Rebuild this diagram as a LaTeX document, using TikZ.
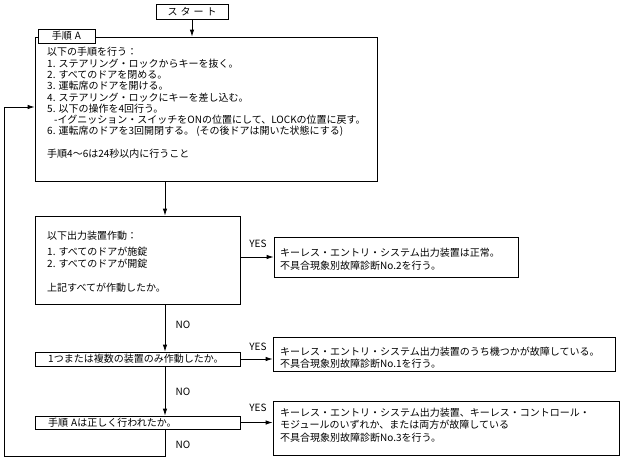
\documentclass[tikz,border=0pt]{standalone}
\usepackage{fontspec}
\setmainfont{Noto Sans CJK JP}
\usetikzlibrary{arrows.meta}
\newcommand\dgfs{\fontsize{10}{11.2}\selectfont}
\begin{document}
\begin{tikzpicture}[x=1pt,y=-1pt,
  box/.style={draw, line width=0.8pt, inner sep=0pt, rectangle},
  txt/.style={inner sep=0pt, anchor=north west, align=left, font=\dgfs},
  lab/.style={inner sep=0pt, font=\dgfs},
  arr/.style={line width=0.8pt, -{Latex[length=7pt,width=4.5pt]}},
  ln/.style={line width=0.8pt}]
\useasboundingbox (0,0) rectangle (621,458);
% boxes
\node[box, minimum width=72pt, minimum height=15pt, font=\dgfs] (start) at (192,12) {ス\hspace{3pt}タ\hspace{3pt}ー\hspace{3pt}ト};
\node[box, minimum width=342pt, minimum height=144pt] (A) at (206,109) {};
\node[box, fill=white, minimum width=57pt, minimum height=14pt, font=\dgfs] (tab) at (66.5,36) {手順\hspace{3pt}A};
\node[txt] (Atext) at (47,46.8) {以下の手順を行う：\\[0.8pt]
1. ステアリング・ロックからキーを抜く。\\
2. すべてのドアを閉める。\\
3. 運転席のドアを開ける。\\
4. ステアリング・ロックにキーを差し込む。\\
5. 以下の操作を4回行う。\\
\hspace*{7pt}-イグニッション・スイッチをONの位置にして、LOCKの位置に戻す。\\
6. 運転席のドアを3回開閉する。 (その後ドアは開いた状態にする)\\[11.8pt]
手順4〜6は24秒以内に行うこと};
\node[box, minimum width=205pt, minimum height=88pt] (B) at (137.5,260) {};
\node[txt] (Btext) at (47,231.2) {以下出力装置作動：\\[4.8pt]
1. すべてのドアが施錠\\
2. すべてのドアが開錠\\[12.8pt]
上記すべてが作動したか。};
\node[box, minimum width=244pt, minimum height=40pt] (R1) at (396,257) {};
\node[txt] (R1text) at (280,247.8) {キーレス・エントリ・システム出力装置は正常。\\[1.8pt]
不具合現象別故障診断No.2を行う。};
\node[box, minimum width=205pt, minimum height=14pt] (C) at (137.5,359) {};
\node[lab, anchor=west] (Ctext) at (48,359) {1つまたは複数の装置のみ作動したか。};
\node[box, minimum width=342pt, minimum height=34pt] (R2) at (444,354) {};
\node[txt] (R2text) at (280,346.8) {キーレス・エントリ・システム出力装置のうち機つかが故障している。\\[0.8pt]
不具合現象別故障診断No.1を行う。};
\node[box, minimum width=205pt, minimum height=13pt] (D) at (137.5,422.5) {};
\node[lab, anchor=west] (Dtext) at (48,422.5) {手順\hspace{3pt}Aは正しく行われたか。};
\node[box, minimum width=346pt, minimum height=54pt] (R3) at (446,428) {};
\node[txt] (R3text) at (280,407.8) {キーレス・エントリ・システム出力装置、キーレス・コントロール・\\[0.8pt]
モジュールのいずれか、または両方が故障している\\[1.8pt]
不具合現象別故障診断No.3を行う。};
% labels
\node[lab] (y1) at (258,244) {YES};
\node[lab] (y2) at (258,347) {YES};
\node[lab] (y3) at (258,408) {YES};
\node[lab] (n1) at (183,325) {NO};
\node[lab] (n2) at (183,392) {NO};
\node[lab] (n3) at (183,445) {NO};
% connectors
\coordinate (spine) at (165,0);
\coordinate (lb) at (4,456);
\coordinate (lt) at (4,107);
\draw[arr] (start.south) -- (start.south |- A.north);
\draw[arr] (A.south -| spine) -- (B.north -| spine);
\draw[arr] (B.south -| spine) -- (C.north -| spine);
\draw[arr] (C.south -| spine) -- (D.north -| spine);
\draw[arr] (B.east |- R1.west) -- (R1.west);
\draw[arr] (C.east) -- (C.east -| R2.west);
\draw[arr] (D.east) -- (D.east -| R3.west);
\draw[arr] (D.south -| spine) |- (lb) -- (lt) -- (A.west |- lt);
\end{tikzpicture}
\end{document}
